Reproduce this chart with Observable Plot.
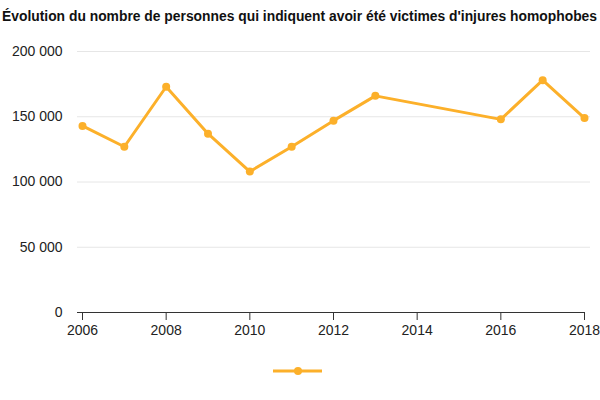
<!DOCTYPE html>
<html>
<head>
<meta charset="utf-8">
<script src="https://cdn.jsdelivr.net/npm/d3@7"></script>
<script src="https://cdn.jsdelivr.net/npm/@observablehq/plot@0.6"></script>
<style>
  body { margin: 0; background: #fff; font-family: "Liberation Sans", Helvetica, Arial, sans-serif; }
  #title { height: 28px; padding: 8px 0 0 2px; font-weight: bold; font-size: 14px; line-height: 16px; color: #111; white-space: nowrap; overflow: hidden; }
  #title span { display: inline-block; transform-origin: 0 50%; }
  #chart svg { display: block; }
  #legend { height: 30px; padding-left: 273px; }
  #legend svg { display: block; }
</style>
</head>
<body>
<div id="title"><span id="titletext">Évolution du nombre de personnes qui indiquent avoir été victimes d'injures homophobes</span></div>
<div id="chart"></div>
<div id="legend"></div>
<script>
const years = [2006, 2007, 2008, 2009, 2010, 2011, 2012, 2013, 2016, 2017, 2018];
const victims = [143000, 127000, 173000, 137000, 108000, 127000, 147000, 166000, 148000, 178000, 149000];
const yTicks = [0, 50000, 100000, 150000, 200000];
const xTicks = [2006, 2008, 2010, 2012, 2014, 2016, 2018];
const color = "#fcb02a";

// fit title to the reference width (~596px)
const tt = document.getElementById("titletext");
const w = tt.getBoundingClientRect().width;
if (w > 0) tt.style.transform = `scaleX(${595 / w})`;

const data = years.map((y, i) => ({year: y, value: victims[i]}));
const fr = d3.formatLocale({decimal: ",", thousands: "\u00a0", grouping: [3], currency: ["", " €"]});
const fmt = fr.format(",d");

const chart = Plot.plot({
  width: 600,
  height: 320,
  marginLeft: 77,
  marginRight: 10,
  marginTop: 15,
  marginBottom: 44,
  style: {fontFamily: "Liberation Sans, Helvetica, Arial, sans-serif", fontSize: "14px", color: "#222"},
  x: {domain: [2006, 2018], insetLeft: 5, insetRight: 6, ticks: xTicks, tickFormat: d => String(d), label: null},
  y: {domain: [0, 200000], ticks: yTicks, tickFormat: fmt, label: null},
  marks: [
    Plot.ruleY(yTicks.filter(d => d > 0), {stroke: "#e6e6e6", strokeWidth: 1}),
    Plot.axisY({ticks: yTicks, tickFormat: fmt, tickSize: 0, tickPadding: 15, fontSize: 14}),
    Plot.axisX({ticks: xTicks, tickFormat: d => String(d), tickSize: 8, tickPadding: 5, stroke: "#333", strokeWidth: 1, fontSize: 14}),
    Plot.ruleY([0], {stroke: "#333", strokeWidth: 1, insetRight: 6}),
    Plot.line(data, {x: "year", y: "value", stroke: color, strokeWidth: 3}),
    Plot.dot(data, {x: "year", y: "value", fill: color, r: 4})
  ]
});
document.getElementById("chart").appendChild(chart);

// legend symbol
const lg = d3.select("#legend").append("svg").attr("width", 50).attr("height", 30);
lg.append("line").attr("x1", 0).attr("x2", 49).attr("y1", 15).attr("y2", 15).attr("stroke", color).attr("stroke-width", 3);
lg.append("circle").attr("cx", 25).attr("cy", 15).attr("r", 4).attr("fill", color);
</script>
</body>
</html>
